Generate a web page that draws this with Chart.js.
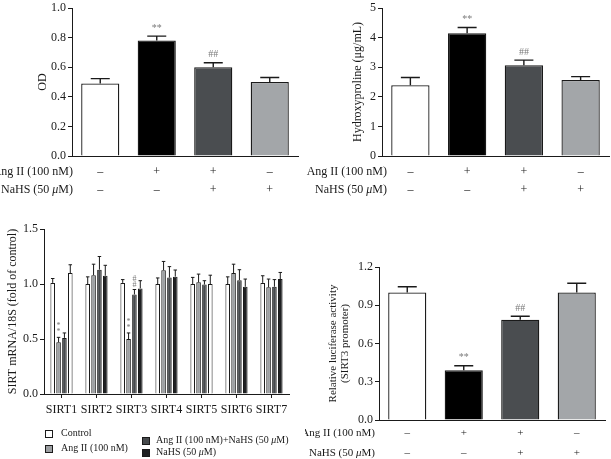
<!DOCTYPE html>
<html>
<head>
<meta charset="utf-8">
<script src="https://cdn.jsdelivr.net/npm/chart.js@4.4.0/dist/chart.umd.min.js"></script>
<style>
html, body { margin: 0; padding: 0; background: #fff; }
#wrap { position: relative; width: 611px; height: 459px; overflow: hidden; }
.panel { position: absolute; }
</style>
</head>
<body>
<div id="wrap">
  <div class="panel" style="left:0;top:0;width:305px;height:200px"><canvas id="chartOD"></canvas></div>
  <div class="panel" style="left:305px;top:0;width:306px;height:200px"><canvas id="chartHyp"></canvas></div>
  <div class="panel" style="left:0;top:220px;width:305px;height:239px"><canvas id="chartSirt"></canvas></div>
  <div class="panel" style="left:305px;top:250px;width:306px;height:209px"><canvas id="chartLuc"></canvas></div>
</div>
<script>
// ---- data ----
const angSigns = ["–", "+", "+", "–"];
const nahsSigns = ["–", "–", "+", "+"];

const odValues = [0.49, 0.78, 0.60, 0.50];
const odErrors = [0.033, 0.03, 0.03, 0.03];
const odMarks = ["", "**", "##", ""];

const hypValues = [2.39, 4.15, 3.07, 2.57];
const hypErrors = [0.26, 0.19, 0.17, 0.11];
const hypMarks = ["", "**", "##", ""];

const lucValues = [1.00, 0.39, 0.787, 1.00];
const lucErrors = [0.045, 0.035, 0.027, 0.072];
const lucMarks = ["", "**", "##", ""];

const sirtCats = ["SIRT1", "SIRT2", "SIRT3", "SIRT4", "SIRT5", "SIRT6", "SIRT7"];
const sirtControl = [1.01, 1.00, 1.01, 1.00, 1.00, 1.00, 1.01];
const sirtControlErr = [0.04, 0.065, 0.03, 0.055, 0.06, 0.065, 0.065];
const sirtAng = [0.47, 1.08, 0.50, 1.125, 1.015, 1.10, 0.97];
const sirtAngErr = [0.045, 0.10, 0.055, 0.08, 0.075, 0.08, 0.075];
const sirtCombo = [0.51, 1.13, 0.905, 1.058, 0.995, 1.035, 0.975];
const sirtComboErr = [0.045, 0.12, 0.045, 0.10, 0.035, 0.095, 0.065];
const sirtNahs = [1.10, 1.075, 0.96, 1.067, 1.00, 0.975, 1.045];
const sirtNahsErr = [0.075, 0.095, 0.07, 0.06, 0.08, 0.07, 0.06];
const sirtAngMarks = ["**", "", "**", "", "", "", ""];
const sirtComboMarks = ["", "", "##", "", "", "", ""];

// ---- style ----
const SERIF = "'Liberation Serif', 'DejaVu Serif', serif";
const INK = "#1a1a1a";
const barColors = ["#ffffff", "#000000", "#4a4d50", "#a3a6a9"];
const sirtColors = ["#ffffff", "#9c9fa2", "#46494c", "#1f2022"];

// draws text, with any μ in italic
function drawMixed(ctx, text, x, y, size, align) {
    const parts = text.split(/(μ)/).filter(p => p !== "");
    const fontOf = p => (p === "μ" ? "italic " : "") + size + "px " + SERIF;
    let total = 0;
    parts.forEach(p => { ctx.font = fontOf(p); total += ctx.measureText(p).width; });
    let cx = align === "right" ? x - total : x;
    ctx.textAlign = "left";
    ctx.textBaseline = "middle";
    parts.forEach(p => {
        ctx.font = fontOf(p);
        ctx.fillText(p, cx, y);
        cx += ctx.measureText(p).width;
    });
}

// upper error whiskers + significance marks
const errorBars = {
    id: "errorBars",
    afterDatasetsDraw(chart, args, opts) {
        const ctx = chart.ctx;
        const yScale = chart.scales.y;
        chart.data.datasets.forEach((ds, di) => {
            const meta = chart.getDatasetMeta(di);
            meta.data.forEach((bar, i) => {
                const top = yScale.getPixelForValue(ds.data[i] + ds.errors[i]);
                const cap = opts.cap;
                ctx.save();
                ctx.strokeStyle = INK;
                ctx.lineWidth = opts.lineWidth;
                ctx.beginPath();
                ctx.moveTo(bar.x, bar.y);
                ctx.lineTo(bar.x, top);
                ctx.moveTo(bar.x - cap / 2, top);
                ctx.lineTo(bar.x + cap / 2, top);
                ctx.stroke();
                const mark = ds.marks ? ds.marks[i] : "";
                if (mark) {
                    ctx.fillStyle = "#7a7a7a";
                    ctx.font = opts.markSize + "px " + SERIF;
                    ctx.textAlign = "center";
                    ctx.textBaseline = "middle";
                    if (opts.stacked) {
                        mark.split("").forEach((ch, k) => {
                            ctx.fillText(ch, bar.x, top - opts.markGap - k * opts.markStep);
                        });
                    } else {
                        ctx.fillText(mark, bar.x, top - opts.markGap);
                    }
                }
                ctx.restore();
            });
        });
    }
};

// "Ang II (100 nM)" / "NaHS (50 μM)" row titles beside the +/- ticks
const rowTitles = {
    id: "rowTitles",
    afterDraw(chart, args, opts) {
        const ctx = chart.ctx;
        const xs = chart.scales.x;
        const titles = ["Ang II (100 nM)", "NaHS (50 μM)"];
        ctx.save();
        ctx.fillStyle = INK;
        titles.forEach((t, k) => {
            const y = xs.top + opts.pad + opts.lh / 2 + k * opts.lh;
            drawMixed(ctx, t, chart.chartArea.left + opts.dx, y, opts.size, "right");
        });
        ctx.restore();
    }
};

// two-column legend of the SIRT panel
const sirtLegend = {
    id: "sirtLegend",
    afterDraw(chart) {
        const ctx = chart.ctx;
        const spots = [[45, 210, 61], [45, 225, 61], [142, 217, 156], [142, 229, 156]];
        ctx.save();
        chart.data.datasets.forEach((ds, i) => {
            const [sx, sy, tx] = spots[i];
            ctx.fillStyle = ds.legendColor;
            ctx.fillRect(sx, sy, 7.5, 7.5);
            ctx.strokeStyle = INK;
            ctx.lineWidth = 1;
            ctx.strokeRect(sx + 0.5, sy + 0.5, 7, 7);
            ctx.fillStyle = INK;
            drawMixed(ctx, ds.label, tx, sy + 3.5, 10, "left");
        });
        ctx.restore();
    }
};

function yAxis(min, max, step, digits, width, title, titlePad, titleSize) {
    return {
        min: min, max: max,
        ticks: {
            stepSize: step,
            callback: v => v.toFixed(digits),
            font: { family: SERIF, size: 12, lineHeight: 1 },
            color: INK, padding: 2
        },
        grid: { drawOnChartArea: false, drawTicks: true, tickLength: 4, color: INK },
        border: { color: INK, width: 1 },
        title: {
            display: true, text: title, color: INK,
            font: { family: SERIF, size: titleSize, lineHeight: 1.1 },
            padding: { top: titlePad, bottom: 0 }
        },
        afterFit: s => { s.width = width; }
    };
}

function signAxis(height, pad, lh, size) {
    return {
        ticks: {
            font: { family: SERIF, size: size, lineHeight: lh / size },
            color: INK, padding: pad, autoSkip: false, maxRotation: 0
        },
        grid: { display: false, drawTicks: false },
        border: { color: INK, width: 1 },
        afterFit: s => { s.height = height; }
    };
}

function fourBarChart(id, values, errors, marks, yOpts, layout, rows) {
    new Chart(document.getElementById(id), {
        type: "bar",
        data: {
            labels: angSigns.map((a, i) => [a, nahsSigns[i]]),
            datasets: [{
                data: values,
                errors: errors,
                marks: marks,
                backgroundColor: barColors,
                borderColor: INK,
                borderWidth: 1.3,
                borderSkipped: "bottom",
                categoryPercentage: 0.75,
                barPercentage: 0.9
            }]
        },
        options: {
            responsive: true,
            maintainAspectRatio: false,
            animation: false,
            layout: { padding: layout },
            scales: {
                x: signAxis(rows.height, rows.pad, rows.lh, rows.size),
                y: yOpts
            },
            plugins: {
                legend: { display: false },
                tooltip: { enabled: false },
                errorBars: { cap: 19, lineWidth: 1.4, markSize: 10, markGap: 8 },
                rowTitles: { pad: rows.pad, lh: rows.lh, dx: rows.dx, size: rows.size }
            }
        },
        plugins: [errorBars, rowTitles]
    });
}

fourBarChart("chartOD", odValues, odErrors, odMarks,
    yAxis(0, 1.0, 0.2, 1, 72, "OD", 36, 12),
    { left: 0, right: 7, top: 3, bottom: 0 },
    { height: 44, pad: 7, lh: 18, dx: 1, size: 12 });

fourBarChart("chartHyp", hypValues, hypErrors, hypMarks,
    yAxis(0, 5, 1, 0, 77, "Hydroxyproline (μg/mL)", 46, 12),
    { left: 0, right: 2, top: 3, bottom: 0 },
    { height: 44, pad: 7, lh: 18, dx: 5, size: 12 });

fourBarChart("chartLuc", lucValues, lucErrors, lucMarks,
    yAxis(0, 1.2, 0.3, 1, 74, ["Relative luciferase activity", "(SIRT3 promoter)"], 22, 11),
    { left: 0, right: 6, top: 17, bottom: 0 },
    { height: 39, pad: 3, lh: 20, dx: -4, size: 11 });

// SIRT panel
const nahsBarColors = sirtCats.map((c, i) => (i === 0 || i === 4) ? "#ffffff" : sirtColors[3]);
const sirtSeries = [
    { label: "Control", data: sirtControl, errors: sirtControlErr, color: sirtColors[0] },
    { label: "Ang II (100 nM)", data: sirtAng, errors: sirtAngErr, marks: sirtAngMarks, color: sirtColors[1] },
    { label: "Ang II (100 nM)+NaHS (50 μM)", data: sirtCombo, errors: sirtComboErr, marks: sirtComboMarks, color: sirtColors[2] },
    { label: "NaHS (50 μM)", data: sirtNahs, errors: sirtNahsErr, color: nahsBarColors, legend: sirtColors[3] }
];

new Chart(document.getElementById("chartSirt"), {
    type: "bar",
    data: {
        labels: sirtCats,
        datasets: sirtSeries.map(s => ({
            label: s.label,
            data: s.data,
            errors: s.errors,
            marks: s.marks,
            backgroundColor: s.color,
            legendColor: s.legend || s.color,
            borderColor: INK,
            borderWidth: 1,
            borderSkipped: "bottom",
            categoryPercentage: 0.67,
            barPercentage: 0.78
        }))
    },
    options: {
        responsive: true,
        maintainAspectRatio: false,
        animation: false,
        layout: { padding: { left: 0, right: 16, top: 9, bottom: 0 } },
        scales: {
            x: {
                ticks: { font: { family: SERIF, size: 12, lineHeight: 1.2 }, color: INK, padding: 5, autoSkip: false, maxRotation: 0 },
                grid: { display: true, drawOnChartArea: false, drawTicks: true, tickLength: 4, offset: false, color: INK },
                border: { color: INK, width: 1 },
                afterFit: s => { s.height = 65; }
            },
            y: yAxis(0, 1.5, 0.5, 1, 44, "SIRT mRNA/18S (fold of control)", 6, 12)
        },
        plugins: {
            legend: { display: false },
            tooltip: { enabled: false },
            errorBars: { cap: 3.5, lineWidth: 1, markSize: 8, markGap: 5, markStep: 6, stacked: true }
        }
    },
    plugins: [errorBars, sirtLegend]
});
</script>
</body>
</html>
